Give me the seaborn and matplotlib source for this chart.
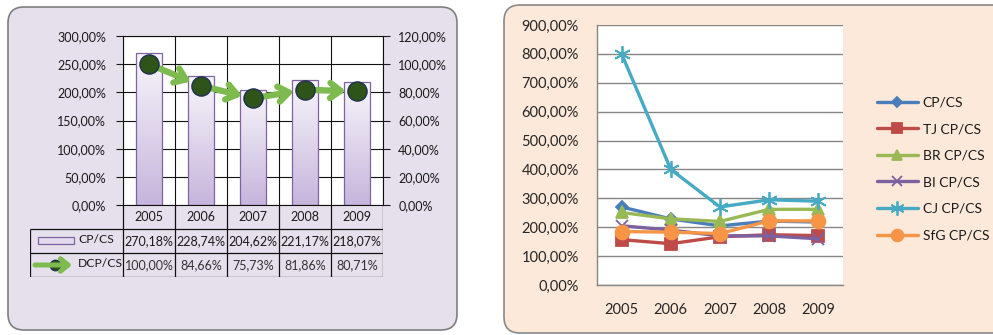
import numpy as np
import pandas as pd
import matplotlib
matplotlib.use('Agg')
import matplotlib.pyplot as plt
import seaborn as sns
from matplotlib.patches import FancyBboxPatch, Rectangle
from matplotlib.transforms import IdentityTransform
from matplotlib.lines import Line2D
from matplotlib.ticker import FuncFormatter
from matplotlib.colors import LinearSegmentedColormap

# ---------------- data ----------------
years = [2005, 2006, 2007, 2008, 2009]
year_labels = ['2005', '2006', '2007', '2008', '2009']
cp_cs = [270.18, 228.74, 204.62, 221.17, 218.07]
dcp_cs = [100.00, 84.66, 75.73, 81.86, 80.71]

tj_cp_cs = [157, 143, 167, 174, 171]
br_cp_cs = [251, 229, 220, 262, 262]
bi_cp_cs = [205, 190, 170, 170, 160]
cj_cp_cs = [800, 400, 270, 295, 290]
sfg_cp_cs = [185, 183, 178, 222, 222]

series_names = ['CP/CS', 'TJ CP/CS', 'BR CP/CS', 'BI CP/CS', 'CJ CP/CS', 'SfG CP/CS']
left_ticks = [0, 50, 100, 150, 200, 250, 300]
right_ticks = [0, 20, 40, 60, 80, 100, 120]
r_ticks = [0, 100, 200, 300, 400, 500, 600, 700, 800, 900]

W, H = 993, 335
FONT = ['Lato', 'DejaVu Sans']

sns.set_style('white')
plt.rcParams['font.family'] = FONT
plt.rcParams['text.color'] = '#1a1a1a'


def pct(v, pos=None):
    return f"{v:.2f}%".replace('.', ',')


fig = plt.figure(figsize=(W / 100, H / 100), dpi=100)
fig.patch.set_facecolor('white')

# panels
fig.add_artist(FancyBboxPatch((8, H - 330), 449, 323,
                              boxstyle='round,pad=0,rounding_size=16',
                              transform=IdentityTransform(), fc='#E5E0EC',
                              ec='#7f7f7f', lw=1.2, zorder=-5))
fig.add_artist(FancyBboxPatch((504, H - 333), 520, 328,
                              boxstyle='round,pad=0,rounding_size=16',
                              transform=IdentityTransform(), fc='#FDE9D9',
                              ec='#8a8a8a', lw=1.2, zorder=-5))

# ---------------- left chart ----------------
ax = fig.add_axes([123 / W, (H - 205) / H, 260 / W, 169 / H])
ax.set_facecolor('white')
sns.barplot(x=year_labels, y=cp_cs, ax=ax, width=0.5, color='#E0D6EC',
            edgecolor='#8064A2', linewidth=0.9, zorder=2)
ax.set_xlim(-0.5, 4.5)
ax.set_ylim(0, 300)
grad = np.linspace(0, 1, 256).reshape(-1, 1)
cmap = LinearSegmentedColormap.from_list('g', ['#C6B5DC', '#F8F6FB'])
for p in list(ax.patches):
    x0, y0 = p.get_x(), p.get_y()
    w, h = p.get_width(), p.get_height()
    im = ax.imshow(grad, extent=[x0, x0 + w, y0, y0 + h], origin='lower',
                   aspect='auto', cmap=cmap, zorder=1.5)
    im.set_clip_path(p)
    p.set_facecolor('none')
ax.set_xlim(-0.5, 4.5)
ax.set_ylim(0, 300)
ax.set_xticks([])
ax.set_xlabel('')
ax.set_yticks(left_ticks)
ax.yaxis.set_major_formatter(FuncFormatter(pct))
ax.tick_params(axis='y', direction='out', length=5, width=0.8, pad=7,
               labelsize=9, colors='#1a1a1a')
ax.yaxis.grid(True, color='#111111', lw=0.8)
for b in np.arange(-0.5, 5.0, 1.0):
    ax.axvline(b, color='#111111', lw=0.8, zorder=1)
ax.set_axisbelow(True)
for s in ax.spines.values():
    s.set_color('#111111')
    s.set_linewidth(0.8)

ax2 = ax.twinx()
ax2.set_ylim(0, 120)
ax2.set_yticks(right_ticks)
ax2.yaxis.set_major_formatter(FuncFormatter(pct))
ax2.tick_params(axis='y', direction='out', length=5, width=0.8, pad=6,
                labelsize=9, colors='#1a1a1a')
for s in ax2.spines.values():
    s.set_visible(False)
xs = list(range(len(years)))
for i in range(len(xs) - 1):
    ax2.annotate('', xy=(xs[i + 1], dcp_cs[i + 1]), xytext=(xs[i], dcp_cs[i]),
                 arrowprops=dict(arrowstyle='->,head_length=0.75,head_width=0.55',
                                 lw=4.5, color='#7DBB4E', shrinkA=5, shrinkB=8,
                                 capstyle='round'),
                 zorder=3)
sns.scatterplot(x=xs, y=dcp_cs, ax=ax2, s=190, color='#2E5419',
                edgecolor='#1F2F50', linewidth=1.0, zorder=4, legend=False)
ax2.set_xlim(-0.5, 4.5)
ax2.set_ylim(0, 120)

# data table below
left_x = -0.5 - 93 / 52
tab = fig.add_axes([30 / W, (H - 277) / H, 353 / W, 72 / H])
tab.set_xlim(left_x, 4.5)
tab.set_ylim(3, 0)
tab.axis('off')
lc = '#111111'
tab.hlines([1, 2, 3], left_x, 4.5, color=lc, lw=0.9)
tab.vlines(np.arange(-0.5, 5.0, 1.0), 0, 3, color=lc, lw=0.9)
tab.vlines([left_x], 1, 3, color=lc, lw=0.9)
for i, lab in enumerate(year_labels):
    tab.text(i, 0.52, lab, ha='center', va='center', fontsize=9)
    tab.text(i, 1.5, pct(cp_cs[i]), ha='center', va='center', fontsize=9)
    tab.text(i, 2.52, pct(dcp_cs[i]), ha='center', va='center', fontsize=9,
             color='#333333')
tab.add_patch(Rectangle((left_x + 8 / 52, 1.33), 36 / 52, 0.3,
                        fc='#E3DAEE', ec='#8064A2', lw=0.9))
tab.text(left_x + 48 / 52, 1.42, 'CP/CS', ha='left', va='center', fontsize=8.7)
tab.annotate('', xy=(left_x + 42 / 52, 2.5), xytext=(left_x + 5 / 52, 2.5),
             arrowprops=dict(arrowstyle='->,head_length=0.55,head_width=0.45',
                             lw=3.6, color='#7DBB4E', shrinkA=0, shrinkB=0))
tab.plot([left_x + 25 / 52], [2.5], 'o', ms=7.5, color='#2E5419', mec='#1F2F50')
tab.text(left_x + 48 / 52, 2.45, 'DCP/CS', ha='left', va='center', fontsize=8.7)

# ---------------- right chart ----------------
axr = fig.add_axes([597 / W, (H - 285) / H, 246 / W, 260 / H])
axr.set_facecolor('white')
df = pd.DataFrame({
    'Year': years * 6,
    'Value': cp_cs + tj_cp_cs + br_cp_cs + bi_cp_cs + cj_cp_cs + sfg_cp_cs,
    'Series': np.repeat(series_names, len(years)),
})
palette = {'CP/CS': '#4A7EBB', 'TJ CP/CS': '#BE4B48', 'BR CP/CS': '#98B954',
           'BI CP/CS': '#7D60A0', 'CJ CP/CS': '#46AAC5', 'SfG CP/CS': '#F69545'}
markers = {'CP/CS': 'D', 'TJ CP/CS': 's', 'BR CP/CS': '^', 'BI CP/CS': 'x',
           'CJ CP/CS': (6, 2, 0), 'SfG CP/CS': 'o'}
msizes = {'CP/CS': 6, 'TJ CP/CS': 9, 'BR CP/CS': 9, 'BI CP/CS': 9,
          'CJ CP/CS': 12, 'SfG CP/CS': 10}
handles = []
for k, name in enumerate(series_names):
    sub = df[df['Series'] == name]
    sns.lineplot(data=sub, x='Year', y='Value', color=palette[name],
                 marker=markers[name], lw=2.4, ax=axr, legend=False,
                 zorder=3 + k, markersize=msizes[name],
                 markeredgecolor=palette[name], markeredgewidth=1.3)
    handles.append(Line2D([0], [0], color=palette[name], lw=2.4,
                          marker=markers[name], ms=msizes[name] * 0.85,
                          mec=palette[name], mew=1.3))
axr.set_xlim(2004.5, 2009.5)
axr.set_ylim(0, 900)
axr.set_xticks(years)
axr.set_xticklabels(year_labels)
axr.set_xticks(np.arange(2004.5, 2010, 1.0), minor=True)
axr.tick_params(axis='x', which='major', length=0, pad=13, labelsize=10.5)
axr.tick_params(axis='x', which='minor', direction='out', length=5,
                width=1, color='#868686')
axr.set_yticks(r_ticks)
axr.yaxis.set_major_formatter(FuncFormatter(pct))
axr.tick_params(axis='y', direction='out', length=5, width=1, pad=8,
                labelsize=10.5, color='#868686')
axr.set_xlabel('')
axr.set_ylabel('')
axr.yaxis.grid(True, color='#868686', lw=1)
axr.set_axisbelow(True)
for k in ['top', 'right']:
    axr.spines[k].set_visible(False)
for k in ['left', 'bottom']:
    axr.spines[k].set_color('#868686')
    axr.spines[k].set_linewidth(1)

fig.legend(handles, series_names, loc='center left',
           bbox_to_anchor=(877 / W, (H - 169) / H), frameon=False,
           fontsize=10, handlelength=2.95, handletextpad=0.35,
           labelspacing=1.05, borderpad=0, borderaxespad=0)

fig.savefig('out.png', dpi=100)
